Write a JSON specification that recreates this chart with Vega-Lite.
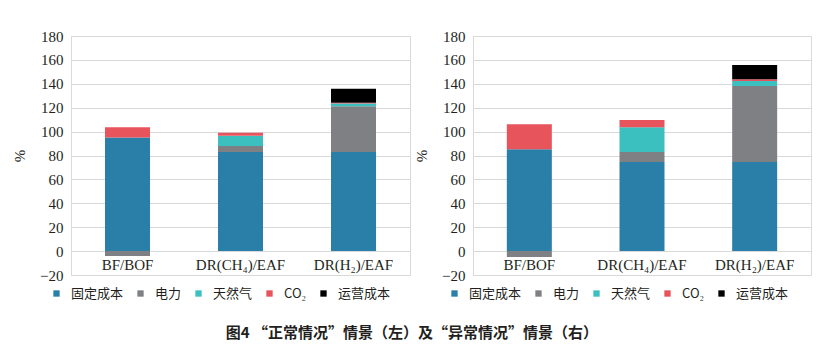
{
  "$schema": "https://vega.github.io/schema/vega-lite/v6.json",
  "background": "white",
  "padding": {"left": 12, "top": 28, "right": 28, "bottom": 10},
  "spacing": 3,
  "datasets": {
    "normal": [
      {"route": "BF/BOF", "item": "固定成本", "k": 1, "value": 95},
      {"route": "BF/BOF", "item": "电力", "k": 2, "value": -4},
      {"route": "BF/BOF", "item": "天然气", "k": 3, "value": 0},
      {"route": "BF/BOF", "item": "CO₂", "k": 4, "value": 8.7},
      {"route": "BF/BOF", "item": "运营成本", "k": 5, "value": 0},
      {"route": "DR(CH₄)/EAF", "item": "固定成本", "k": 1, "value": 83},
      {"route": "DR(CH₄)/EAF", "item": "电力", "k": 2, "value": 5},
      {"route": "DR(CH₄)/EAF", "item": "天然气", "k": 3, "value": 8.5},
      {"route": "DR(CH₄)/EAF", "item": "CO₂", "k": 4, "value": 2.5},
      {"route": "DR(CH₄)/EAF", "item": "运营成本", "k": 5, "value": 0},
      {"route": "DR(H₂)/EAF", "item": "固定成本", "k": 1, "value": 83},
      {"route": "DR(H₂)/EAF", "item": "电力", "k": 2, "value": 38.3},
      {"route": "DR(H₂)/EAF", "item": "天然气", "k": 3, "value": 2.2},
      {"route": "DR(H₂)/EAF", "item": "CO₂", "k": 4, "value": 0.6},
      {"route": "DR(H₂)/EAF", "item": "运营成本", "k": 5, "value": 11.8}
    ],
    "abnormal": [
      {"route": "BF/BOF", "item": "固定成本", "k": 1, "value": 85.2},
      {"route": "BF/BOF", "item": "电力", "k": 2, "value": -5},
      {"route": "BF/BOF", "item": "天然气", "k": 3, "value": 0},
      {"route": "BF/BOF", "item": "CO₂", "k": 4, "value": 21},
      {"route": "BF/BOF", "item": "运营成本", "k": 5, "value": 0},
      {"route": "DR(CH₄)/EAF", "item": "固定成本", "k": 1, "value": 74.6},
      {"route": "DR(CH₄)/EAF", "item": "电力", "k": 2, "value": 8.4},
      {"route": "DR(CH₄)/EAF", "item": "天然气", "k": 3, "value": 20.7},
      {"route": "DR(CH₄)/EAF", "item": "CO₂", "k": 4, "value": 6.1},
      {"route": "DR(CH₄)/EAF", "item": "运营成本", "k": 5, "value": 0},
      {"route": "DR(H₂)/EAF", "item": "固定成本", "k": 1, "value": 74.6},
      {"route": "DR(H₂)/EAF", "item": "电力", "k": 2, "value": 63.5},
      {"route": "DR(H₂)/EAF", "item": "天然气", "k": 3, "value": 4.2},
      {"route": "DR(H₂)/EAF", "item": "CO₂", "k": 4, "value": 1.6},
      {"route": "DR(H₂)/EAF", "item": "运营成本", "k": 5, "value": 11.8}
    ]
  },
  "title": {
    "text": "图4 “正常情况”情景（左）及“异常情况”情景（右）",
    "orient": "bottom",
    "anchor": "middle",
    "font": "Noto Sans CJK SC",
    "fontSize": 15,
    "fontWeight": "bold",
    "color": "#231f20",
    "offset": 24
  },
  "config": {
    "view": {"stroke": "#d9d9d9", "strokeWidth": 1},
    "axis": {
      "labelFont": "Liberation Serif",
      "labelFontSize": 15,
      "labelColor": "#231f20",
      "titleFont": "Liberation Serif",
      "titleFontSize": 15,
      "titleFontWeight": "normal",
      "titleColor": "#231f20",
      "ticks": false,
      "domain": false
    },
    "legend": {
      "labelFont": "Noto Sans CJK SC",
      "labelFontSize": 13,
      "labelColor": "#231f20",
      "symbolType": "square",
      "symbolSize": 40,
      "symbolStrokeWidth": 0,
      "columnPadding": 10,
      "labelOffset": 8,
      "gridAlign": "none",
      "direction": "horizontal",
      "orient": "none",
      "title": null
    }
  },
  "resolve": {"legend": {"color": "independent"}, "scale": {"color": "independent"}},
  "hconcat": [
    {
      "data": {"name": "normal"},
      "width": 339,
      "height": 239,
      "mark": {"type": "bar", "width": 45},
      "encoding": {
        "x": {
          "field": "route", "type": "nominal", "sort": null,
          "scale": {"paddingInner": 0.6, "paddingOuter": 0.3},
          "axis": {"title": null, "labelAngle": 0, "offset": -24, "labelPadding": 6, "grid": false}
        },
        "y": {
          "field": "value", "type": "quantitative", "stack": "zero",
          "scale": {"domain": [-20, 180], "nice": false},
          "axis": {"title": "%", "values": [-20, 0, 20, 40, 60, 80, 100, 120, 140, 160, 180], "gridColor": "#d9d9d9", "labelPadding": 8, "titlePadding": 12}
        },
        "color": {
          "field": "item", "type": "nominal",
          "scale": {"domain": ["固定成本", "电力", "天然气", "CO₂", "运营成本"], "range": ["#2a7fa8", "#7f8083", "#3bbfbf", "#e8545c", "#000000"]},
          "legend": {"legendX": -21, "legendY": 251}
        },
        "order": {"field": "k", "type": "quantitative"}
      }
    },
    {
      "data": {"name": "abnormal"},
      "width": 338,
      "height": 239,
      "mark": {"type": "bar", "width": 45},
      "encoding": {
        "x": {
          "field": "route", "type": "nominal", "sort": null,
          "scale": {"paddingInner": 0.6, "paddingOuter": 0.3},
          "axis": {"title": null, "labelAngle": 0, "offset": -24, "labelPadding": 6, "grid": false}
        },
        "y": {
          "field": "value", "type": "quantitative", "stack": "zero",
          "scale": {"domain": [-20, 180], "nice": false},
          "axis": {"title": "%", "values": [-20, 0, 20, 40, 60, 80, 100, 120, 140, 160, 180], "gridColor": "#d9d9d9", "labelPadding": 8, "titlePadding": 12}
        },
        "color": {
          "field": "item", "type": "nominal",
          "scale": {"domain": ["固定成本", "电力", "天然气", "CO₂", "运营成本"], "range": ["#2a7fa8", "#7f8083", "#3bbfbf", "#e8545c", "#000000"]},
          "legend": {"legendX": -25, "legendY": 251}
        },
        "order": {"field": "k", "type": "quantitative"}
      }
    }
  ]
}
